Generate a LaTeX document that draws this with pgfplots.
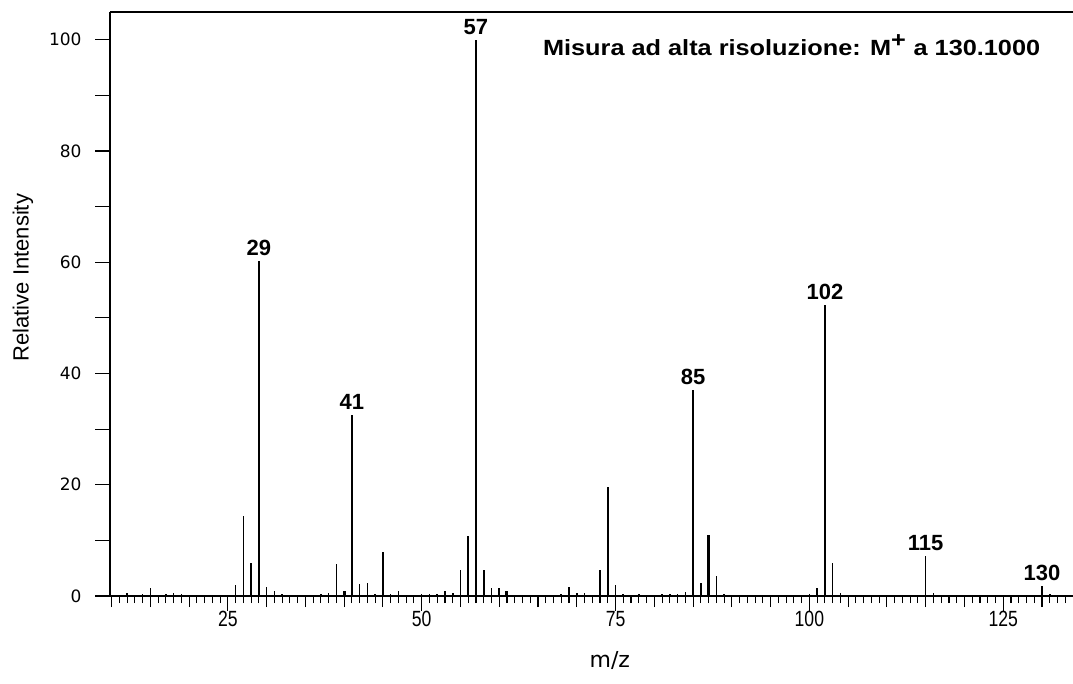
\documentclass[border=0pt]{standalone}
\usepackage{pgfplots}
\pgfplotsset{compat=1.18}
\usepackage{fontspec}
\setmainfont{Liberation Sans}
\newfontfamily\dejavu{DejaVu Sans}

% peak list (m/z, relative intensity)
\pgfplotstableread{
mz   int
12   0.6
14   0.3
15   1.4
17   0.3
18   0.6
19   0.3
26   2.0
27   14.4
28   6.0
29   60.2
30   1.7
31   0.9
32   0.4
37   0.3
38   0.6
39   5.8
41   32.6
42   2.1
43   2.3
44   0.3
45   8.0
46   0.3
47   0.9
50   0.3
51   0.3
52   0.4
53   0.9
54   0.6
55   4.7
56   10.8
57   100
58   4.7
59   1.4
60   1.4
68   0.3
69   1.7
70   0.5
71   0.6
73   4.7
74   19.6
75   2.0
76   0.3
78   0.3
81   0.3
82   0.3
83   0.3
84   0.8
85   37.0
86   2.3
88   3.6
89   0.3
100  0.3
101  1.4
102  52.3
103  6.0
104  0.6
115  7.2
116  0.5
130  1.8
131  0.3
}\peaks

% peaks that are drawn as a wider stroke
\pgfplotstableread{
mz   int
40   0.9
61   0.9
87   11.0
}\widepeaks

\begin{document}
\begin{tikzpicture}
\begin{axis}[
    name=ax,
    scale only axis,
    width=963pt, height=584pt,
    xmin=9.8, xmax=134,
    ymin=0, ymax=105,
    clip=false,
    axis line style={draw=none},
    tick align=outside,
    xtick pos=bottom, ytick pos=left,
    major tick length=15pt,
    minor tick length=7pt,
    every tick/.style={black, line width=1.1pt},
    xtick={25,50,75,100,125},
    minor xtick={10,11,...,133},
    extra x ticks={10,15,20,30,35,40,45,55,60,65,70,80,85,90,95,105,110,115,120,130},
    extra x tick labels={},
    extra x tick style={major tick length=11pt},
    ytick={0,10,...,100},
    yticklabels={0,,20,,40,,60,,80,,100},
    /pgf/number format/assume math mode=true,
    yticklabel style={font=\dejavu\fontsize{17}{17}\selectfont, xshift=-10pt},
    xticklabel style={font=\fontsize{22}{22}\selectfont, yshift=3pt},
    xticklabel={\scalebox{0.8}[1]{\pgfmathprintnumber{\tick}}},
]
\addplot[ycomb, black, line width=1.6pt, no marks] table[x=mz, y=int] {\peaks};
\addplot[ycomb, black, line width=3pt, no marks] table[x=mz, y=int] {\widepeaks};

\draw[line width=1.5pt] (rel axis cs:0,1) -- (rel axis cs:0,0) -- (rel axis cs:1,0);
\draw[line width=1.5pt] (rel axis cs:0,1) -- (rel axis cs:1,1);

% axis titles
\node[font=\dejavu\fontsize{22}{22}\selectfont] at (rel axis cs:0.519,-0.11) {m/z};
\node[rotate=90, font=\fontsize{22}{22}\selectfont] at (rel axis cs:-0.0905,0.545) {Relative Intensity};

\begin{scope}[every node/.style={font=\bfseries\fontsize{22}{22}\selectfont, anchor=south, inner sep=0pt, yshift=5pt}]
\node at (axis cs:29,60.2) {29};
\node at (axis cs:41,32.6) {41};
\node at (axis cs:57,100) {57};
\node at (axis cs:85,37.0) {85};
\node at (axis cs:102,52.3) {102};
\node at (axis cs:115,7.2) {115};
\node at (axis cs:130,1.8) {130};
\end{scope}
\node[anchor=base east, inner sep=0pt, font=\bfseries\fontsize{22}{22}\selectfont]
    at (axis cs:129.8,97.2) {\scalebox{1.15}[1]{Misura ad alta risoluzione: M$^{\textbf{+}}$ a 130.1000}};
\end{axis}
\pgfresetboundingbox
\useasboundingbox ([xshift=-110pt,yshift=-87pt]ax.south west) rectangle ([yshift=12pt]ax.north east);
\end{tikzpicture}
\end{document}
